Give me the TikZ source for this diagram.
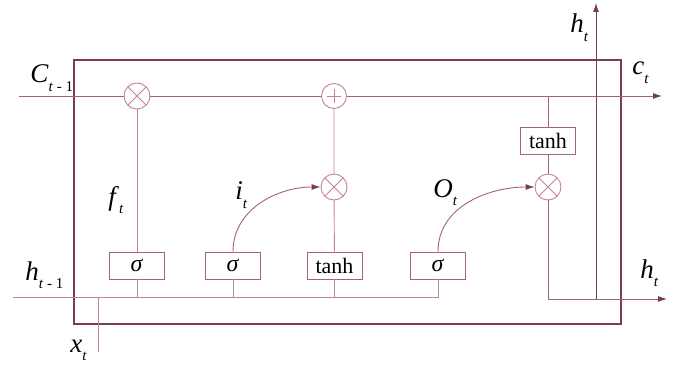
\documentclass[tikz,border=0pt]{standalone}
\usepackage{fontspec}
\setmainfont{Liberation Serif}
\usetikzlibrary{arrows.meta,positioning,calc}
\definecolor{cellline}{RGB}{196,128,162}
\definecolor{celldark}{RGB}{165,95,130}
\definecolor{cellframe}{RGB}{122,58,88}
\newcommand{\gatevar}[2]{\textit{#1}\raisebox{-0.7ex}{\fontsize{15}{15}\selectfont #2}}

\begin{document}
\begin{tikzpicture}[x=1pt, y=-1pt, line width=0.9pt,
  gate/.style={draw=celldark, fill=white, minimum width=55pt, minimum height=27pt,
    inner sep=0pt, font=\fontsize{22}{22}\selectfont},
  op/.style={draw=cellline, circle, minimum size=26pt, inner sep=0pt, fill=white},
  mul/.style={op, path picture={
    \draw[cellline] (path picture bounding box.north west) -- (path picture bounding box.south east)
      (path picture bounding box.north east) -- (path picture bounding box.south west);}},
  add/.style={op, minimum size=25pt, path picture={
    \draw[cellline] ($(path picture bounding box.center)+(-7,0)$) -- ++(14,0)
      ($(path picture bounding box.center)+(0,-7)$) -- ++(0,14);}},
  lbl/.style={anchor=base west, inner sep=0pt, font=\fontsize{27}{27}\selectfont},
  tip/.style={-{Latex[length=9pt, width=6pt, color=cellframe]}}]
\useasboundingbox (0,0) rectangle (674,366);
% cell frame
\node[draw=cellframe, line width=1.4pt, minimum width=547pt, minimum height=264pt,
  inner sep=0pt] (cell) at (347.5,192) {};
% gates and operations
\node[mul] (fmul) at (137,96) {};
\node[add] (cadd) at (334,96) {};
\node[mul] (imul) at (334,187) {};
\node[mul] (omul) at (548,187) {};
\node[gate] (fsig) at (137,265.5) {\fontsize{24}{24}\selectfont\textit{σ}};
\node[gate] (isig) at (233,265.5) {\fontsize{24}{24}\selectfont\textit{σ}};
\node[gate] (ctanh) at (334.5,265.5) {tanh};
\node[gate] (osig) at (438,265.5) {\fontsize{24}{24}\selectfont\textit{σ}};
\node[gate] (htanh) at (548,140.5) {tanh};
% free ends
\coordinate (cin) at (19,96);
\coordinate (cout) at (662,96);
\coordinate (hin) at (13,297);
\coordinate (hjoin) at (438,297);
\coordinate (hout) at (667,299);
\coordinate (hbot) at (596,299);
\coordinate (htop) at (596,3);
\coordinate (xin) at (98,352);
% cell state
\draw[celldark, tip] (cin) -- (fmul) -- (cadd) -- (cout);
\draw[celldark] (htanh |- cin) -- (htanh) -- (omul);
% hidden input
\draw[cellline] (hin) -- (hjoin) -- (osig.south);
\draw[cellline] (xin) -- (xin |- hin);
\draw[cellline] (fsig.south |- hin) -- (fsig) -- (fmul);
\draw[cellline] (isig.south |- hin) -- (isig);
\draw[cellline] (ctanh.south |- hin) -- (ctanh) -- (imul) -- (cadd);
\draw[celldark, tip] (isig.north) to[out=90, in=180] (imul.west);
\draw[celldark, tip] (osig.north) to[out=90, in=180] (omul.west);
% outputs
\draw[celldark, tip] (omul) -- (omul |- hout) -- (hout);
\draw[cellframe, tip] (hbot) -- (htop);
% labels
\node[lbl] (lc0) at (30,83) {\gatevar{C}{\textit{t} - 1}};
\node[lbl] (lc1) at (632,75) {\gatevar{c}{\textit{t}}};
\node[lbl] (lh1) at (570,33) {\gatevar{h}{\textit{t}}};
\node[lbl] (lh2) at (640,278) {\gatevar{h}{\textit{t}}};
\node[lbl] (lh0) at (25,280) {\gatevar{h}{\textit{t} - 1}};
\node[lbl] (lx) at (70,352) {\gatevar{x}{\textit{t}}};
\node[lbl] (lf) at (108,205) {\gatevar{f}{\textit{t}}};
\node[lbl] (li) at (235,200) {\gatevar{i}{\textit{t}}};
\node[lbl] (lo) at (433,197) {\gatevar{O}{\textit{t}}};
\end{tikzpicture}
\end{document}
